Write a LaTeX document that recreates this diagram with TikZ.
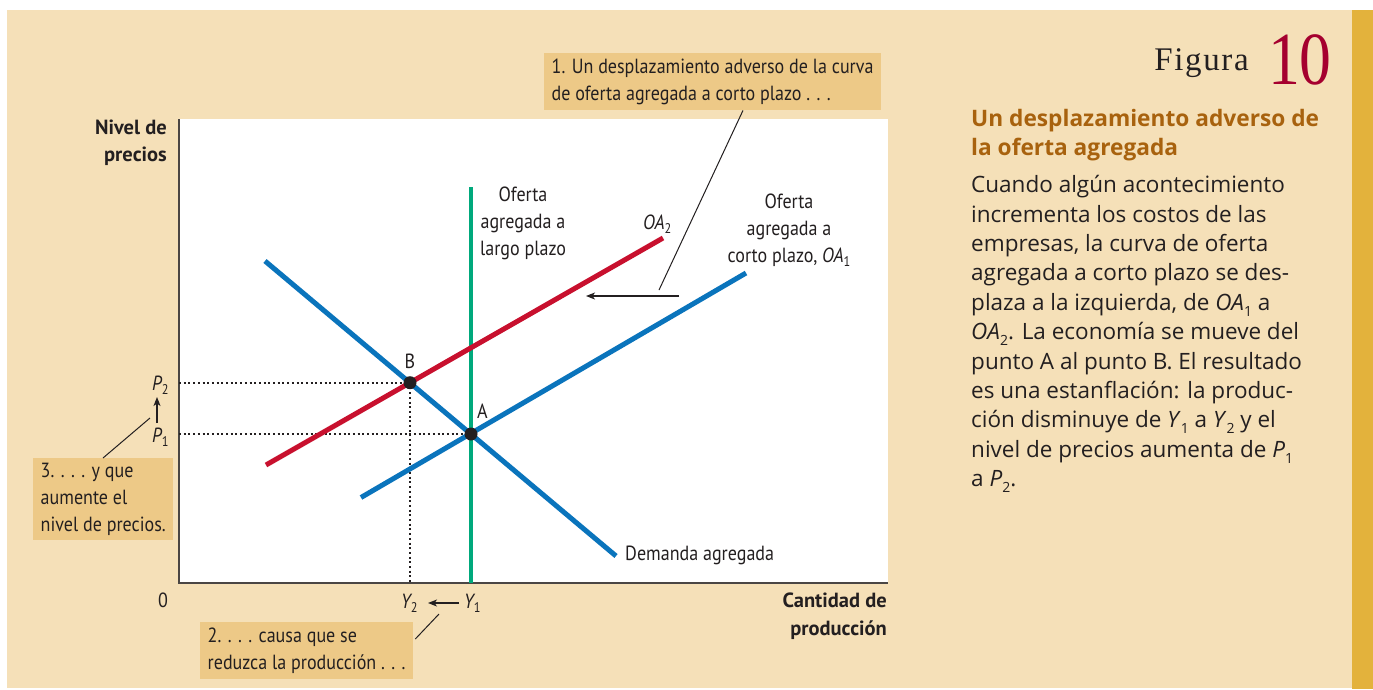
\documentclass[tikz,border=0pt]{standalone}
\usepackage{fontspec}
\setmainfont{Open Sans}
\newfontfamily\labfont[FakeStretch=0.88]{PT Sans}
\newfontfamily\axfont{PT Sans Bold}
\newfontfamily\figfont[LetterSpace=5]{Liberation Serif}
\newfontfamily\numfont[FakeStretch=0.85]{Liberation Serif}
\usetikzlibrary{arrows.meta,calc}
\definecolor{cream}{HTML}{F5E0B8}
\definecolor{boxfill}{HTML}{EDC987}
\definecolor{goldbar}{HTML}{E3B23C}
\definecolor{adblue}{HTML}{0A74BC}
\definecolor{oared}{HTML}{C8102E}
\definecolor{lrgreen}{HTML}{00A97C}
\definecolor{titlebrown}{HTML}{A8620E}
\definecolor{numred}{HTML}{A5002F}
\definecolor{ink}{HTML}{231F20}
\definecolor{axisgray}{HTML}{4A4644}
\newcommand\gsub[1]{\raisebox{-4.5pt}{\fontsize{14}{14}\selectfont #1}}
\newcommand\bsub[1]{\raisebox{-6pt}{\fontsize{14}{14}\selectfont #1}}
\begin{document}
\begin{tikzpicture}[x=1pt,y=-1pt,
  lab/.style={font=\labfont\fontsize{20.5}{27}\selectfont, text=ink, inner sep=0pt},
  axlab/.style={font=\axfont\fontsize{20.5}{27.5}\selectfont, text=ink, inner sep=0pt, align=right},
  notebox/.style={lab, fill=boxfill, align=left, inner xsep=7.5pt, inner ysep=0pt, anchor=north west},
  body/.style={font=\fontsize{22.5}{29.4}\selectfont, text=ink, inner sep=0pt, align=left},
  curve/.style={line width=5pt},
  leader/.style={draw=ink, line width=1pt},
  arr/.style={draw=ink, line width=1.1pt, -{Stealth[length=9pt,width=7pt,inset=2.5pt]}},
  dots/.style={draw=ink, line width=2pt, dash pattern=on 2pt off 2.7pt},
  eqpt/.style={circle, fill=ink, inner sep=0pt, minimum size=13pt}]
\useasboundingbox (0,0) rectangle (1373,689);
% backgrounds
\fill[white] (0,0) rectangle (1373,689);
\fill[cream] (7,10) rectangle (1352,688);
\fill[goldbar] (1352,10) rectangle (1373,689);
\fill[white] (179,119) rectangle (888,583);
% axes
\coordinate (ytop) at (179,119);
\coordinate (orig) at (179,583);
\coordinate (xend) at (888,583);
\draw[axisgray, line width=1.6pt] (ytop) -- (orig) -- (xend);
% key points
\coordinate (A) at (471,434);
\coordinate (B) at (410,382.7);
\coordinate (PB) at (179,382.7);
\coordinate (PA) at (179,434);
\coordinate (YB) at (410,583);
% dotted guides
\draw[dots] (PB) -- (B);
\draw[dots] (PA) -- (A);
\draw[dots] (B) -- (YB);
% curves
\coordinate (lr1) at (471,187);
\coordinate (lr2) at (471,583);
\draw[lrgreen, line width=4pt] (lr1) -- (lr2);
\coordinate (oa1s) at (361,497.5);
\coordinate (oa1e) at (746,273);
\draw[adblue, curve] (oa1s) -- (oa1e);
\coordinate (oa2s) at (266,465);
\coordinate (oa2e) at (663,238);
\draw[oared, curve] (oa2s) -- (oa2e);
\coordinate (ads) at (265,261);
\coordinate (ade) at (616,556);
\draw[adblue, curve] (ads) -- (ade);
\node[eqpt] (ptA) at (A) {};
\node[eqpt] (ptB) at (B) {};
% point labels
\node[lab, anchor=base] (labB) at (410,368) {B};
\node[lab, anchor=base west] (labA) at (477,418) {A};
% curve labels (base = last line)
\node[lab, align=center, anchor=base] (lrlab) at (523,255) {Oferta\\agregada a\\largo plazo};
\node[lab, anchor=base west] (oa2lab) at (643,229) {\itshape OA\gsub{\upshape 2}};
\node[lab, align=center, anchor=base] (oa1lab) at (789,262) {Oferta\\agregada a\\corto plazo, \textit{OA}\gsub{1}};
\node[lab, anchor=base west] (adlab) at (625,560.5) {Demanda agregada};
% axis labels
\node[axlab, anchor=base east] (ylab) at (167,161.7) {Nivel de\\precios};
\node[axlab, anchor=base east] (xlab) at (887,635) {Cantidad de\\producción};
\node[lab, anchor=base] (zero) at (163,607.5) {0};
\node[lab, anchor=base west] (P2) at (152,390) {\itshape P\gsub{\upshape 2}};
\node[lab, anchor=base west] (P1) at (152,442) {\itshape P\gsub{\upshape 1}};
\node[lab, anchor=base west] (Y2) at (401,608) {\itshape Y\gsub{\upshape 2}};
\node[lab, anchor=base west] (Y1) at (464,608) {\itshape Y\gsub{\upshape 1}};
% movement arrows
\coordinate (pa1) at (157,423);
\coordinate (pa2) at (157,397);
\draw[arr] (pa1) -- (pa2);
\coordinate (ya1) at (459,603);
\coordinate (ya2) at (428,603);
\draw[arr] (ya1) -- (ya2);
\coordinate (sh1) at (679,296);
\coordinate (sh2) at (586,296);
\draw[arr] (sh1) -- (sh2);
% note boxes
\node[notebox, minimum height=57pt] (box1) at (544,53) {1. Un desplazamiento adverso de la curva\\de oferta agregada a corto plazo . . .};
\node[notebox, minimum height=82pt] (box3) at (33,458) {3. . . . y que\\aumente el\\nivel de precios.};
\node[notebox, minimum height=57pt] (box2) at (200,622) {2. . . . causa que se\\reduzca la producción . . .};
% leaders
\coordinate (l1e) at (659,290);
\draw[leader] ($(box1.south west)+(199,0)$) -- (l1e);
\coordinate (l3e) at (150,418);
\draw[leader] ($(box3.north west)+(70,0)$) -- (l3e);
\coordinate (l2e) at (439,614);
\draw[leader] ($(box2.north east)+(2,17)$) -- (l2e);
% right column
\node[anchor=base east, inner sep=0pt, text=ink, font=\figfont\fontsize{33}{33}\selectfont] (figw) at (1249,70) {Figura};
\node[anchor=base east, inner sep=0pt, text=numred, font=\numfont\fontsize{75}{75}\selectfont] (fignum) at (1332,84.3) {10};
\node[body, anchor=base west, text=titlebrown, font=\bfseries\fontsize{22.7}{29}\selectfont] (title) at (971,155.7) {Un desplazamiento adverso de\\la oferta agregada};
\node[body, anchor=base west] (desc) at (971,486.7) {Cuando algún acontecimiento\\incrementa los costos de las\\empresas, la curva de oferta\\agregada a corto plazo se des-\\plaza a la izquierda, de \textit{OA}\bsub{1} a\\\textit{OA}\bsub{2}. La economía se mueve del\\punto A al punto B. El resultado\\es una estanflación: la produc-\\ción disminuye de \textit{Y}\bsub{1} a \textit{Y}\bsub{2} y el\\nivel de precios aumenta de \textit{P}\bsub{1}\\a \textit{P}\bsub{2}.};
\end{tikzpicture}
\end{document}
